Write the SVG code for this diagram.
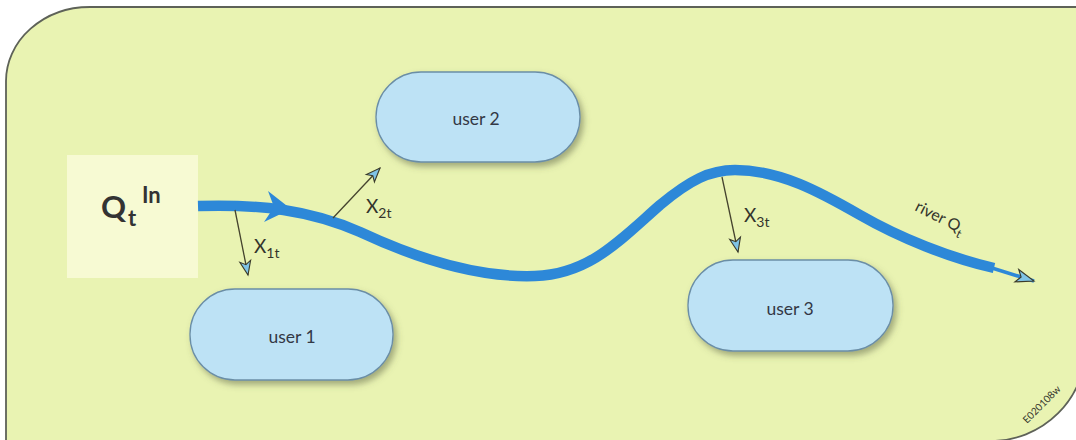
<svg xmlns="http://www.w3.org/2000/svg" width="1076" height="440" viewBox="0 0 1076 440">
  <defs>
    <style>
      .panel { fill: #e9f3b2; stroke: #5e6258; stroke-width: 1.8; }
      .inflow { fill: #f7fad3; }
      .node rect { fill: #bde2f5; stroke: #6b8ea6; stroke-width: 1.3; filter: url(#shadow); }
      .node text { font-family: Lato, "Open Sans", sans-serif; font-size: 17.5px; fill: #333845; text-anchor: middle; }
      .river { fill: none; stroke: #2d88d8; stroke-width: 10.5; stroke-linecap: butt; }
      .river-tail { fill: none; stroke: #2d88d8; stroke-width: 3.5; }
      .withdraw { fill: none; stroke: #45432e; stroke-width: 1.3; }
      .lbl { font-family: Lato, "Open Sans", sans-serif; fill: #33342c; }
      .qin { font-family: Lato, "Liberation Sans", sans-serif; font-weight: bold; fill: #333333; }
    </style>
    <filter id="shadow" x="-10%" y="-10%" width="125%" height="135%">
      <feDropShadow dx="3" dy="4" stdDeviation="3" flood-color="#5a6040" flood-opacity="0.5"/>
    </filter>
    <marker id="head" markerUnits="userSpaceOnUse" markerWidth="18" markerHeight="14" viewBox="0 0 18 14" refX="16" refY="7" orient="auto">
      <path d="M2,1.5 L16,7 L2,12.5 L5.5,7 Z" fill="#7fc3e6" stroke="#3a3a2a" stroke-width="1.1" stroke-linejoin="miter"/>
    </marker>
    <marker id="headBig" markerUnits="userSpaceOnUse" markerWidth="22" markerHeight="16" viewBox="0 0 22 16" refX="20" refY="8" orient="auto">
      <path d="M2,1.5 L20,8 L2,14.5 L6.5,8 Z" fill="#7fc3e6" stroke="#3a3a2a" stroke-width="1.1"/>
    </marker>
  </defs>

  <!-- basin background -->
  <path class="panel" d="M6,441 V81 A84,74 0 0 1 90,7 H1086 V346 A95,95 0 0 1 991,441 Z"/>
  <rect class="inflow" x="67" y="155" width="131" height="123"/>

  <!-- inflow label -->
  <g id="inflow-label">
    <text class="qin" x="101" y="218" font-size="31">Q</text>
    <text class="qin" x="128" y="226" font-size="22">t</text>
    <text class="qin" x="142" y="203" font-size="22">In</text>
  </g>

  <!-- users -->
  <g id="user2" class="node">
    <rect x="376" y="72" width="204" height="90" rx="45" ry="45"/>
    <text x="476" y="125">user 2</text>
  </g>
  <g id="user1" class="node">
    <rect x="190" y="289" width="203" height="91" rx="45" ry="45"/>
    <text x="292" y="343">user 1</text>
  </g>
  <g id="user3" class="node">
    <rect x="688" y="260" width="205" height="91" rx="45" ry="45"/>
    <text x="790" y="315">user 3</text>
  </g>

  <!-- river and withdrawals -->
  <g id="connectors">
    <path class="river" d="M198,206 C260,204 310,210 360,232 C420,260 480,278 535,276 C590,274 620,240 660,205 C690,180 710,170 735,170 C780,170 820,192 860,215 C900,238 950,258 994,268"/>
    <path d="M268,191 L291,209 L264,222 L274,207 Z" fill="#2d88d8"/>
    <path class="river-tail" d="M992,268 L1034,281" marker-end="url(#headBig)"/>

    <path class="withdraw" d="M235,210 L248,275" marker-end="url(#head)"/>
    <path class="withdraw" d="M333,218 L380,168" marker-end="url(#head)"/>
    <path class="withdraw" d="M722,177 L738,252" marker-end="url(#head)"/>
  </g>

  <!-- flow labels -->
  <g id="labels">
    <text class="lbl" x="254" y="253" font-size="19">X<tspan font-size="14" dy="5">1t</tspan></text>
    <text class="lbl" x="366" y="213" font-size="19">X<tspan font-size="14" dy="5">2t</tspan></text>
    <text class="lbl" x="744" y="222" font-size="19">X<tspan font-size="14" dy="5">3t</tspan></text>
    <text class="lbl" font-size="16" transform="translate(914,210) rotate(27)">river Q<tspan font-size="12" dy="5">t</tspan></text>
    <text class="lbl" font-size="10" fill="#8c9a72" transform="translate(1027,424) rotate(-45)">E020108w</text>
  </g>
</svg>
